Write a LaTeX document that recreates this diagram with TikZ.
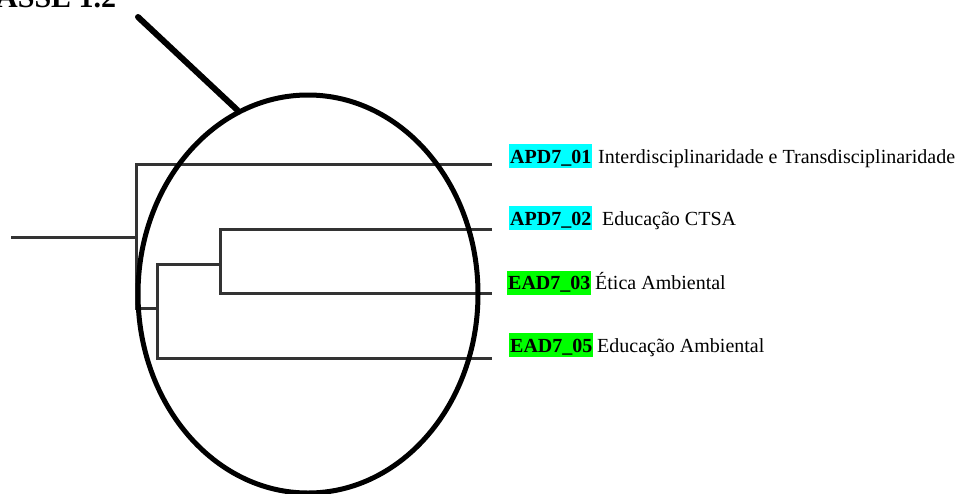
\documentclass[tikz,border=0pt]{standalone}
\usepackage{fontspec}
\setmainfont{Liberation Serif}
\usetikzlibrary{shapes.geometric}
\definecolor{tagcyan}{RGB}{0,255,255}
\definecolor{taggreen}{RGB}{0,255,0}
\begin{document}
\begin{tikzpicture}[x=1pt,y=-1pt,
  branch/.style={draw=black!80, line width=3pt},
  ring/.style={draw=black, line width=5pt, ellipse, minimum width=340pt,
    minimum height=398pt, inner sep=0pt},
  pointer/.style={draw=black, line width=6pt, line cap=round},
  tagbox/.style={font=\fontsize{20}{20}\selectfont\bfseries, inner xsep=1pt,
    inner ysep=1pt, text height=18pt, text depth=4pt, anchor=base west},
  desc/.style={font=\fontsize{20}{20}\selectfont, inner sep=0pt, anchor=base west},
]
\useasboundingbox (0,0) rectangle (960,493);

% heading (runs off the top-left edge)
\node[anchor=base west, font=\fontsize{30}{30}\selectfont\bfseries, inner sep=0pt]
  (title) at (-4,7) {ASSE 1.2};

% dendrogram junctions and leaf ends
\coordinate (root) at (11,237);
\coordinate (n0) at (136,237);
\coordinate (n1) at (157,308);
\coordinate (n2) at (220,264);
\coordinate (e1) at (492,164);
\coordinate (e2) at (492,229);
\coordinate (e3) at (492,293);
\coordinate (e4) at (492,358);

\draw[branch] (root) -- (n0);
\draw[branch] (e1) -| (n0) |- (n1);
\draw[branch] (n2) -| (n1) |- (e4);
\draw[branch] (e2) -| (n2) |- (e3);

% highlighted cluster
\node[ring] (cluster) at (308,294) {};
\coordinate (tail) at (138,17);
\draw[pointer] (tail) -- (cluster.111);

% leaf labels
\node[tagbox, fill=tagcyan]  (t1) at (509,163) {APD7\_01};
\node[tagbox, fill=tagcyan]  (t2) at (509,225) {APD7\_02};
\node[tagbox, fill=taggreen] (t3) at (507,289.5) {EAD7\_03};
\node[tagbox, fill=taggreen] (t4) at (509,352) {EAD7\_05};

\node[desc] (d1) at (598,163) {Interdisciplinaridade e Transdisciplinaridade};
\node[desc] (d2) at (602,225) {Educação CTSA};
\node[desc] (d3) at (595,289.5) {Ética Ambiental};
\node[desc] (d4) at (597,352) {Educação Ambiental};
\end{tikzpicture}
\end{document}
